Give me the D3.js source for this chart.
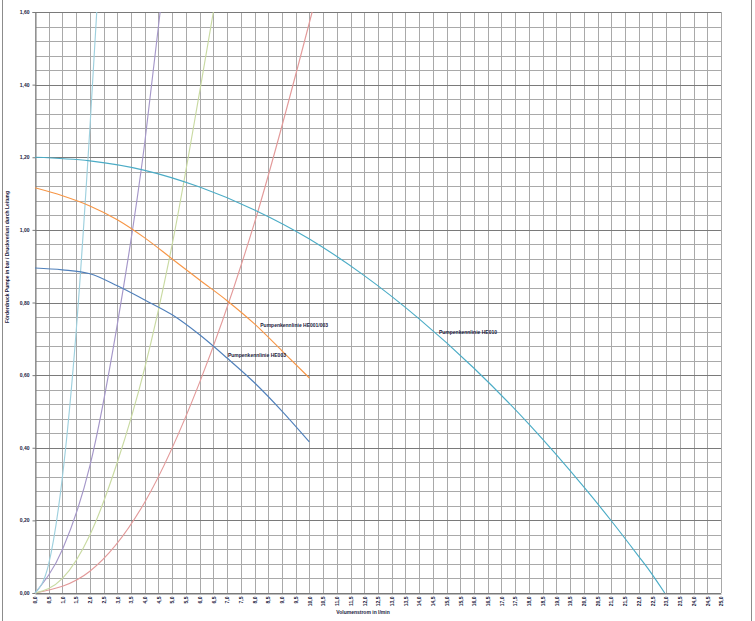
<!DOCTYPE html>
<html><head><meta charset="utf-8">
<script src="https://cdn.jsdelivr.net/npm/d3@7"></script>
<style>html,body{margin:0;padding:0;background:#fff;}svg{display:block;}</style>
</head><body>
<script>
// ---------- data ----------
const xTickValues = [0,0.5,1,1.5,2,2.5,3,3.5,4,4.5,5,5.5,6,6.5,7,7.5,8,8.5,9,9.5,10,10.5,11,11.5,12,12.5,13,13.5,14,14.5,15,15.5,16,16.5,17,17.5,18,18.5,19,19.5,20,20.5,21,21.5,22,22.5,23,23.5,24,24.5,25];
const yMajorTicks = [0,0.2,0.4,0.6,0.8,1.0,1.2,1.4,1.6];
const yMinorTicks = [0.04,0.08,0.12,0.16,0.24,0.28,0.32,0.36,0.44,0.48,0.52,0.56,0.64,0.68,0.72,0.76,0.84,0.88,0.92,0.96,1.04,1.08,1.12,1.16,1.24,1.28,1.32,1.36,1.44,1.48,1.52,1.56];

// pump curves (x: l/min, y: bar)
const he010X = [0,2,4,6,8,10,12,14,16,18,20,21,22,22.4,22.95];
const he010Y = [1.20,1.19,1.164,1.118,1.055,0.975,0.874,0.755,0.619,0.465,0.292,0.199,0.101,0.061,0];
const he001X = [0,1,2,3,4,5,6,7,8,9,10];
const he001Y = [1.116,1.094,1.066,1.028,0.978,0.92,0.862,0.805,0.741,0.667,0.592];
const he003X = [0,1,2,3,4,5,6,7,8,9,10];
const he003Y = [0.895,0.89,0.879,0.846,0.807,0.766,0.711,0.647,0.579,0.501,0.416];

// system (pipe loss) curves
const sysAX = [0,0.5,1,1.5,2,2.25];
const sysAY = [0,0.08,0.32,0.72,1.28,1.6];
const sysBX = [0,1,2,3,4,4.56];
const sysBY = [0,0.12,0.35,0.74,1.24,1.6];
const sysCX = [0,1,2,3,4,5,6,6.5];
const sysCY = [0,0.04,0.16,0.36,0.62,0.96,1.38,1.6];
const sysDX = [0,2,4,6,8,10.1];
const sysDY = [0,0.06,0.25,0.58,1.02,1.6];

const labelHE001 = "Pumpenkennlinie HE001/003";
const labelHE003 = "Pumpenkennlinie HE003";
const labelHE010 = "Pumpenkennlinie HE010";
const xTitle = "Volumenstrom in l/min";
const yTitle = "Förderdruck Pumpe in bar / Druckverlust durch Leitung";

// ---------- layout ----------
const W = 755, H = 621;
const pL = 35, pR = 721, pT = 12, pB = 593;
const x = d3.scaleLinear().domain([0,25]).range([pL,pR]);
const y = d3.scaleLinear().domain([0,1.6]).range([pB,pT]);
const fmt1 = v => d3.format(".1f")(v).replace(".", ",");
const fmt2 = v => d3.format(".2f")(v).replace(".", ",");

const svg = d3.select("body").append("svg").attr("width",W).attr("height",H);
svg.append("rect").attr("width",W).attr("height",H).attr("fill","#fff");
// chart frame
svg.append("rect").attr("x",2.5).attr("y",-1).attr("width",749).attr("height",H+2)
  .attr("fill","none").attr("stroke","#8c8c8c");

const grid = svg.append("g").attr("shape-rendering","crispEdges");
grid.selectAll(".v").data(xTickValues).join("line")
  .attr("x1",d=>Math.round(x(d))+0.5).attr("x2",d=>Math.round(x(d))+0.5)
  .attr("y1",pT).attr("y2",pB).attr("stroke","#a9a9a9");
grid.selectAll(".hm").data(yMinorTicks).join("line")
  .attr("y1",d=>Math.round(y(d))+0.5).attr("y2",d=>Math.round(y(d))+0.5)
  .attr("x1",pL).attr("x2",pR).attr("stroke","#a9a9a9");
grid.selectAll(".hM").data(yMajorTicks).join("line")
  .attr("y1",d=>Math.round(y(d))+0.5).attr("y2",d=>Math.round(y(d))+0.5)
  .attr("x1",pL).attr("x2",pR).attr("stroke","#7a7a7a");

// axes
const yAxis = d3.axisLeft(y).tickValues(yMajorTicks).tickFormat(fmt2).tickSize(3).tickPadding(3);
const gy = svg.append("g").attr("transform",`translate(${pL+0.5},0)`).call(yAxis);
gy.select(".domain").attr("stroke","#7a7a7a");
gy.selectAll(".tick line").attr("stroke","#7a7a7a");
gy.selectAll("text").attr("font-family","Liberation Sans, Arial, sans-serif")
  .attr("font-size",5).attr("font-weight","bold").attr("fill","#1a1a40");

const xAxis = d3.axisBottom(x).tickValues(xTickValues).tickFormat(fmt1).tickSize(0);
const gx = svg.append("g").attr("transform",`translate(0,${pB+0.5})`).call(xAxis);
gx.select(".domain").attr("stroke","#7a7a7a");
gx.selectAll("text").attr("font-family","Liberation Sans, Arial, sans-serif")
  .attr("font-size",5).attr("font-weight","bold").attr("fill","#1a1a40")
  .attr("text-anchor","end").attr("dy","0.35em")
  .attr("transform","translate(0,3) rotate(-90)").attr("x",0).attr("y",0);

// curves
const line = d3.line().x(d=>x(d[0])).y(d=>y(d[1])).curve(d3.curveMonotoneX);
const series = [
  {xs:sysDX, ys:sysDY, c:"#e39a9a"},
  {xs:sysCX, ys:sysCY, c:"#c9daa2"},
  {xs:sysBX, ys:sysBY, c:"#a597c9"},
  {xs:sysAX, ys:sysAY, c:"#9ed0de"},
  {xs:he003X, ys:he003Y, c:"#5080bb"},
  {xs:he001X, ys:he001Y, c:"#f79646"},
  {xs:he010X, ys:he010Y, c:"#4bacc6"}
];
svg.append("g").selectAll("path").data(series).join("path")
  .attr("d",s=>line(s.xs.map((v,i)=>[v,s.ys[i]])))
  .attr("fill","none").attr("stroke",s=>s.c).attr("stroke-width",1.15);

// labels
const lab = svg.append("g").attr("font-family","Liberation Sans, Arial, sans-serif")
  .attr("font-size",5).attr("font-weight","bold").attr("fill","#1a1a40");
lab.append("text").attr("x",x(8.21)).attr("y",y(0.732)).text(labelHE001);
lab.append("text").attr("x",x(7.03)).attr("y",y(0.65)).text(labelHE003);
lab.append("text").attr("x",x(14.72)).attr("y",y(0.714)).text(labelHE010);
lab.append("text").attr("x",363).attr("y",614).attr("text-anchor","middle").text(xTitle);
lab.append("text").attr("transform",`translate(9,257) rotate(-90)`)
  .attr("text-anchor","middle").text(yTitle);
</script>
</body></html>
